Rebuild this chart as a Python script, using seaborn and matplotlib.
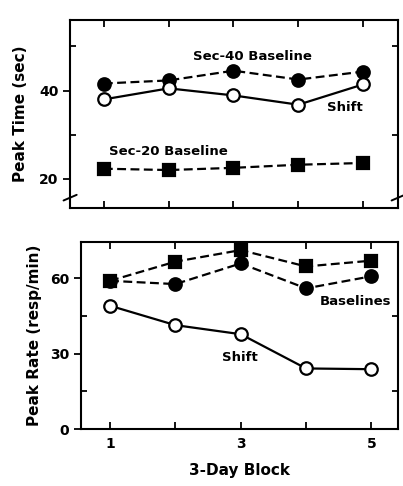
import seaborn as sns
import matplotlib.pyplot as plt
import numpy as np
import pandas as pd

# Peak time and peak rate over 3-day blocks
blocks = [1, 2, 3, 4, 5]

time_sec40 = [41.6, 42.3, 44.5, 42.5, 44.3]
time_shift = [38.0, 40.5, 38.9, 36.8, 41.4]
time_sec20 = [22.3, 22.0, 22.5, 23.2, 23.6]

rate_base_sq = [58.9, 66.5, 71.1, 64.6, 66.9]
rate_base_ci = [58.9, 57.6, 65.8, 55.9, 60.7]
rate_shift = [49.0, 41.3, 37.7, 24.1, 23.8]

x_ticklabels = ['1', '', '3', '', '5']

sns.set_style('ticks')
plt.rcParams['font.family'] = ['DejaVu Sans']
plt.rcParams['font.weight'] = 'bold'
plt.rcParams['text.color'] = 'black'
plt.rcParams['axes.labelcolor'] = 'black'
plt.rcParams['xtick.color'] = 'black'
plt.rcParams['ytick.color'] = 'black'
plt.rcParams['axes.edgecolor'] = 'black'

fig = plt.figure(figsize=(4.03, 4.86), dpi=100)
ax1 = fig.add_axes([0.174, 0.572, 0.814, 0.387])
ax2 = fig.add_axes([0.201, 0.117, 0.787, 0.385])

line_kw = dict(color='black', linewidth=1.6, markersize=9, markeredgewidth=1.6,
               markeredgecolor='black')

# top panel: peak time
sns.lineplot(x=blocks, y=time_sec40, ax=ax1, marker='o', linestyle=(0, (4, 2)), **line_kw)
sns.lineplot(x=blocks, y=time_shift, ax=ax1, marker='o', markerfacecolor='white', **line_kw)
sns.lineplot(x=blocks, y=time_sec20, ax=ax1, marker='s', linestyle=(0, (4, 2)), **line_kw)

ax1.set_xlim(0.48, 5.54)
ax1.set_ylim(13.4, 56)
ax1.set_xticks(blocks)
ax1.set_xticklabels([])
ax1.set_yticks([20, 40])
ax1.set_yticks([30, 50], minor=True)
ax1.set_ylabel('Peak Time (sec)', fontsize=11, fontweight='bold', labelpad=8)

ax1.text(3.29, 47.7, 'Sec-40 Baseline', fontsize=9.5, fontweight='bold', ha='center', va='center')
ax1.text(4.72, 36.1, 'Shift', fontsize=9.5, fontweight='bold', ha='center', va='center')
ax1.text(2.0, 26.1, 'Sec-20 Baseline', fontsize=9.5, fontweight='bold', ha='center', va='center')

# axis break marks
for xb in [0.0, 1.0]:
    ax1.plot([xb - 0.02, xb + 0.02], [0.04, 0.07], transform=ax1.transAxes,
             color='black', linewidth=1.4, clip_on=False)

# bottom panel: peak rate
sns.lineplot(x=blocks, y=rate_base_sq, ax=ax2, marker='s', linestyle=(0, (4, 2)), **line_kw)
sns.lineplot(x=blocks, y=rate_base_ci, ax=ax2, marker='o', linestyle=(0, (4, 2)), **line_kw)
sns.lineplot(x=blocks, y=rate_shift, ax=ax2, marker='o', markerfacecolor='white', **line_kw)

ax2.set_xlim(0.556, 5.41)
ax2.set_ylim(0, 74.3)
ax2.set_xticks(blocks)
ax2.set_xticklabels(x_ticklabels)
ax2.set_yticks([0, 30, 60])
ax2.set_ylabel('Peak Rate (resp/min)', fontsize=11, fontweight='bold', labelpad=6)
ax2.set_xlabel('3-Day Block', fontsize=11, fontweight='bold', labelpad=8)

ax2.text(4.75, 50.5, 'Baselines', fontsize=9.5, fontweight='bold', ha='center', va='center')
ax2.text(2.98, 28.6, 'Shift', fontsize=9.5, fontweight='bold', ha='center', va='center')

for ax in (ax1, ax2):
    for side in ['top', 'right', 'bottom', 'left']:
        ax.spines[side].set_visible(True)
        ax.spines[side].set_linewidth(1.5)
    ax.tick_params(axis='x', direction='in', top=True, bottom=True, length=5,
                   width=1.3, labelsize=10, pad=6)
    ax.tick_params(axis='y', which='major', direction='out', length=5, width=1.3,
                   labelsize=10, right=False)
    ax.tick_params(axis='y', which='minor', direction='in', length=4, width=1.3,
                   left=True, right=True)
    for lbl in ax.get_xticklabels() + ax.get_yticklabels():
        lbl.set_fontweight('bold')
    ax.grid(False)

ax2.set_yticks([15, 45], minor=True)

fig.savefig('out.png', dpi=100)
